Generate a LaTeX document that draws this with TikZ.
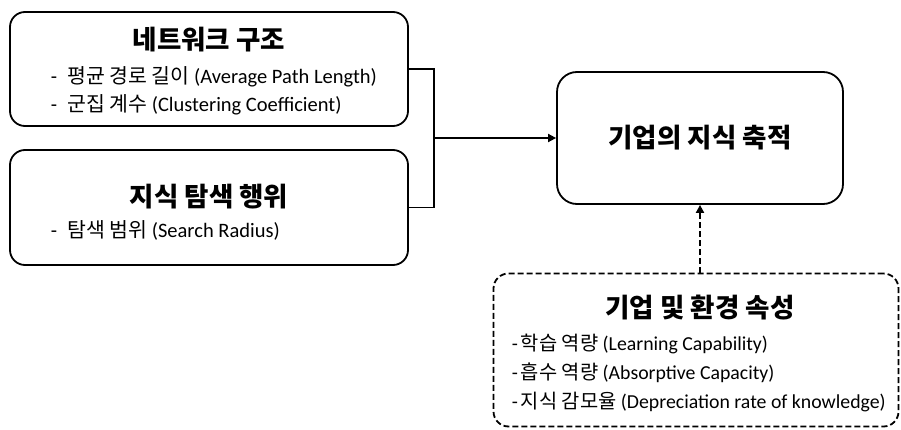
\documentclass[tikz,border=0pt]{standalone}
\usepackage{fontspec}
\setmainfont{Carlito}
\newfontfamily\kr{Noto Sans CJK KR}
\usepackage{tikz}
\usetikzlibrary{positioning,arrows.meta}

\begin{document}
\begin{tikzpicture}[
  x=1pt, y=1pt,
  >={Triangle[length=8pt,width=8pt]},
  line width=1.8pt,
  box/.style={draw, rounded corners=15pt, inner sep=0pt},
  dbox/.style={box, dash pattern=on 6pt off 3pt},
  head/.style={font=\kr\bfseries\fontsize{26.5}{30}\selectfont, inner sep=0pt},
  item/.style={anchor=west, font=\fontsize{20.5}{24}\selectfont, inner sep=0pt},
]
\useasboundingbox (0,0) rectangle (901,429);
% boxes
\node[box, minimum width=398pt, minimum height=114pt] (net) at (209,360) {};
\node[box, minimum width=398pt, minimum height=115pt] (srch) at (209,221.5) {};
\node[box, rounded corners=20pt, minimum width=286pt, minimum height=132pt] (acc) at (700,291) {};
\node[dbox, minimum width=405pt, minimum height=153pt] (attr) at (696,79) {};
% texts
\node[head] (netT) at (209,389) {네트워크 구조};
\node[item] (net1) at (50,352) {-\hspace{10pt}{\kr 평균 경로 길이} (Average Path Length)};
\node[item] (net2) at (50,324) {-\hspace{10pt}{\kr 군집 계수} (Clustering Coefficient)};
\node[head] (srchT) at (209,232) {지식 탐색 행위};
\node[item] (srch1) at (50,199) {-\hspace{10pt}{\kr 탐색 범위} (Search Radius)};
\node[head] at (acc) {기업의 지식 축적};
\node[head] (attrT) at (700,121) {기업 및 환경 속성};
\begin{scope}[item/.append style={font=\fontsize{19.8}{23}\selectfont}]
\node[item] (attr1) at (511,85) {-\hspace{3pt}{\kr 학습 역량} (Learning Capability)};
\node[item] (attr2) at (511,56) {-\hspace{3pt}{\kr 흡수 역량} (Absorptive Capacity)};
\node[item] (attr3) at (511,27) {-\hspace{3pt}{\kr 지식 감모율} (Depreciation rate of knowledge)};
\end{scope}
% connectors
\coordinate (join) at (434,291);
\draw (net.east) -| (join) |- (srch.east);
\draw[->] (join) -- (acc.west);
\draw[->, dash pattern=on 6pt off 3pt] (attr.north -| acc.south) -- (acc.south);
\end{tikzpicture}
\end{document}
